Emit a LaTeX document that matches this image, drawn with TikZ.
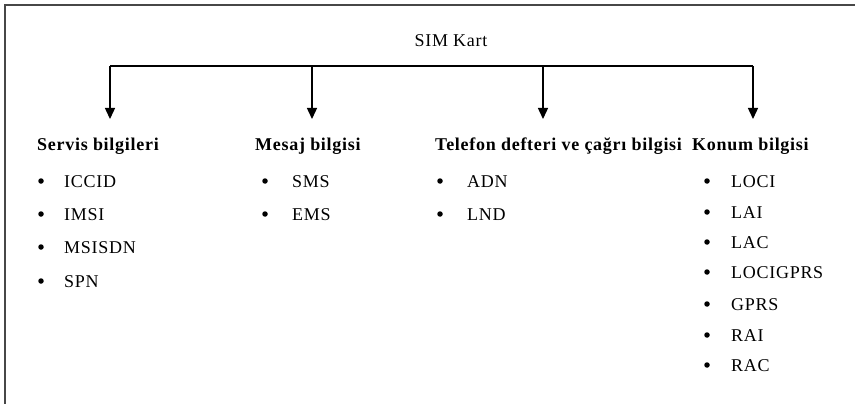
\documentclass[tikz,border=0pt]{standalone}
\usepackage{fontspec}
\setmainfont{Liberation Serif}[LetterSpace=4]
\usetikzlibrary{arrows.meta}
\begin{document}
\begin{tikzpicture}[x=1pt,y=-1pt,
  txt/.style={inner sep=0pt,anchor=base west,font=\fontsize{18}{21}\selectfont},
  head/.style={txt,font=\fontsize{18}{21}\selectfont\bfseries},
  dot/.style={circle,fill=black,inner sep=0pt,minimum size=5.5pt},
  link/.style={line width=1.4pt,-{Triangle[width=10pt,length=11pt]}},
  frame/.style={draw=black!72,line width=2pt}]
\useasboundingbox (0,0) rectangle (855,404);
% open frame: top and left edges only
\draw[frame] (855,5) -- (5,5) -- (5,404);

\node[txt,anchor=base] (sim) at (451,47) {SIM Kart};

% distribution bar and the four branches
\coordinate (b1) at (110,66);
\coordinate (b2) at (312,66);
\coordinate (b3) at (543,66);
\coordinate (b4) at (753,66);
\coordinate (e1) at (110,119);
\coordinate (e2) at (312,119);
\coordinate (e3) at (543,119);
\coordinate (e4) at (753,119);
\draw[line width=1.4pt] (b1) -- (b4);
\foreach \i in {1,...,4} \draw[link] (b\i) -- (e\i);

% headings
\node[head] (h1) at (37,150) {Servis bilgileri};
\node[head] (h2) at (255,150) {Mesaj bilgisi};
\node[head] (h3) at (435,150) {Telefon defteri ve çağrı bilgisi};
\node[head] (h4) at (692,150) {Konum bilgisi};

% item lists
\foreach \t/\y [count=\k] in {ICCID/187,IMSI/220,MSISDN/253,SPN/287}{
  \node[dot] (sd\k) at (41,\y-6) {};
  \node[txt] (st\k) at (64,\y) {\t};}
\foreach \t/\y [count=\k] in {SMS/187,EMS/220}{
  \node[dot] (md\k) at (265,\y-6) {};
  \node[txt] (mt\k) at (292,\y) {\t};}
\foreach \t/\y [count=\k] in {ADN/187,LND/220}{
  \node[dot] (td\k) at (440,\y-6) {};
  \node[txt] (tt\k) at (467,\y) {\t};}
\foreach \t/\y [count=\k] in {LOCI/187,LAI/218,LAC/248,LOCIGPRS/278,GPRS/310,RAI/341,RAC/371}{
  \node[dot] (kd\k) at (707,\y-6) {};
  \node[txt] (kt\k) at (731,\y) {\t};}
\end{tikzpicture}
\end{document}
